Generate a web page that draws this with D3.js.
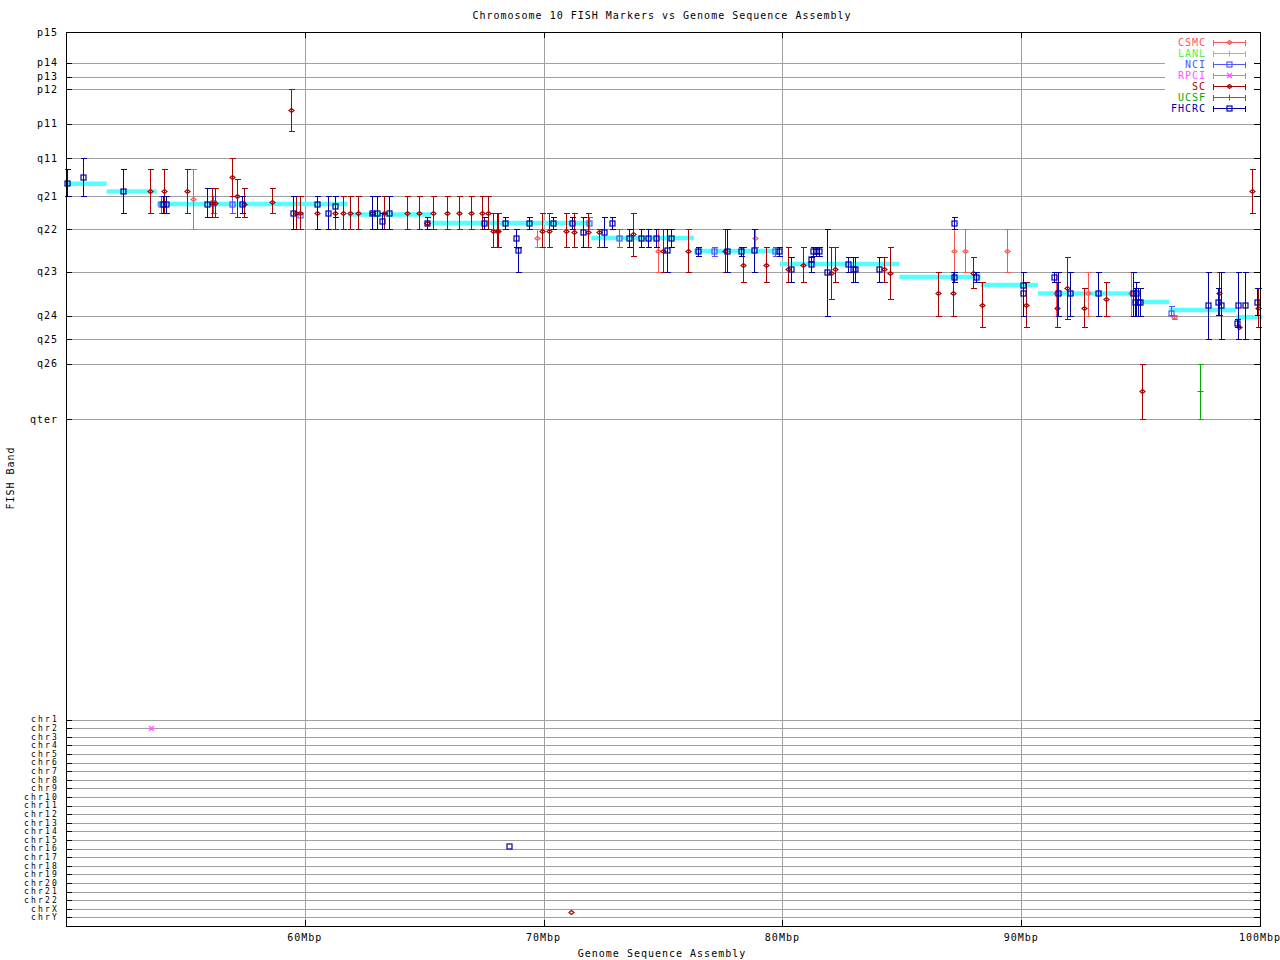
<!DOCTYPE html>
<html><head><meta charset="utf-8">
<script src="https://cdn.jsdelivr.net/npm/d3@7"></script>
<style>
html,body{margin:0;padding:0;background:#fff;}
text{font-family:"DejaVu Sans Mono",monospace;font-size:10px;letter-spacing:1px;}
text.chr{font-size:8px;letter-spacing:2.2px;}
</style></head>
<body><svg id="c" width="1280" height="960"></svg>
<script>
// ---- DATA ----
const title = "Chromosome 10 FISH Markers vs Genome Sequence Assembly";
const xLabel = "Genome Sequence Assembly";
const yLabel = "FISH Band";
const xTicks = [60, 70, 80, 90, 100];
const xTickLabels = ["60Mbp", "70Mbp", "80Mbp", "90Mbp", "100Mbp"];
const bandLabels = ["p15","p14","p13","p12","p11","q11","q21","q22","q23","q24","q25","q26","qter"];
const bandValues = [0, 10.7, 15.6, 20.0, 32.0, 44.1, 57.3, 68.9, 83.7, 99.0, 107.3, 115.8, 135.2];
const chrLabels = ["chr1","chr2","chr3","chr4","chr5","chr6","chr7","chr8","chr9","chr10","chr11","chr12",
  "chr13","chr14","chr15","chr16","chr17","chr18","chr19","chr20","chr21","chr22","chrX","chrY"];
const chrValues = [240,243,246,249,252,255,258,261,264,267,270,273,276,279,282,285,288,291,294,297,300,303,306,309];
const labs = ["CSMC","LANL","NCI","RPCI","SC","UCSF","FHCRC"];
// assembly segments: [startMb, endMb, band]
const assembly = [
  [50.0,51.7,53.0],[51.7,53.8,55.7],[53.8,61.8,60.0],[61.8,65.3,63.7],[65.3,72.0,66.7],
  [72.0,76.3,71.9],[76.3,79.9,76.4],[79.9,84.9,81.0],[84.9,88.3,85.5],[88.3,90.7,88.3],
  [90.7,95.0,91.3],[95.0,96.2,94.2],[96.2,99.0,97.0],[99.0,100.1,99.5]
];
// FISH markers: [lab, Mb, band, bandLow, bandHigh]
const markers = [
  ["FHCRC",50.05,52.8,47.9,57.3],["FHCRC",50.72,50.7,44.1,57.3],["FHCRC",52.40,55.6,47.9,63.2],
  ["SC",53.52,55.6,47.9,63.2],["SC",54.12,55.6,47.9,63.2],["NCI",53.98,60.0,57.3,63.2],
  ["FHCRC",54.06,60.0,57.3,63.2],["FHCRC",54.19,60.0,57.3,63.2],["SC",55.08,55.6,47.9,63.2],
  ["CSMC",55.33,58.4,47.9,68.9],["FHCRC",55.89,60.0,54.6,64.7],["SC",56.10,59.8,54.6,64.7],
  ["SC",56.24,59.8,54.6,64.7],["NCI",56.17,59.8,57.3,63.2],["SC",56.96,50.7,44.1,57.3],
  ["NCI",56.96,60.0,57.3,63.2],["SC",57.15,57.3,51.4,64.7],["FHCRC",57.38,60.0,57.3,63.2],
  ["SC",57.47,60.0,54.6,64.7],["SC",58.64,59.2,54.6,63.2],["SC",59.43,27.3,20.0,34.7],
  ["FHCRC",59.49,63.3,57.3,68.9],["SC",59.63,63.3,57.3,68.9],["SC",59.80,63.3,57.3,68.9],
  ["NCI",59.80,63.9,57.3,68.9],["FHCRC",60.52,60.0,57.3,68.9],["SC",60.52,63.3,57.3,68.9],
  ["FHCRC",60.98,63.3,57.3,68.9],["FHCRC",61.28,60.7,57.3,64.7],["SC",61.28,63.3,57.3,68.9],
  ["SC",61.59,63.3,57.3,68.9],["SC",61.88,63.3,57.3,68.9],["SC",62.22,63.3,57.3,68.9],
  ["FHCRC",62.80,63.3,57.3,68.9],["SC",62.80,63.3,57.3,68.9],["FHCRC",63.01,63.3,57.3,68.9],
  ["FHCRC",63.22,66.1,63.3,68.9],["SC",63.33,63.3,57.3,68.9],["FHCRC",63.54,63.3,57.3,68.9],
  ["SC",64.27,63.3,57.3,68.9],["SC",64.79,63.3,57.3,68.9],["FHCRC",65.13,66.8,64.7,68.9],
  ["SC",65.13,66.8,64.7,68.9],["SC",65.36,63.3,57.3,68.9],["SC",65.97,63.3,57.3,68.9],
  ["SC",66.47,63.3,57.3,68.9],["SC",66.95,63.3,57.3,68.9],["SC",67.41,63.3,57.3,68.9],
  ["SC",67.68,63.3,57.3,68.9],["FHCRC",67.52,66.8,64.7,68.9],["SC",67.87,69.4,63.3,75.1],
  ["SC",68.04,69.4,63.3,75.1],["SC",68.10,69.4,63.3,75.1],["FHCRC",68.40,66.8,64.7,68.9],
  ["FHCRC",68.84,72.0,68.9,75.1],["FHCRC",68.94,76.2,75.1,83.7],["FHCRC",69.40,66.8,64.7,68.9],
  ["CSMC",69.74,72.0,68.9,75.1],["SC",69.92,69.4,63.3,75.1],["SC",70.24,69.4,63.3,75.1],
  ["FHCRC",70.41,66.8,64.7,68.9],["SC",70.93,69.4,63.3,75.1],["FHCRC",71.20,66.8,64.7,68.9],
  ["SC",71.29,69.9,63.3,75.1],["FHCRC",71.66,69.9,64.7,75.1],["SC",71.87,69.9,63.3,75.1],
  ["NCI",71.91,66.8,64.7,68.9],["SC",72.33,69.9,68.9,75.1],["FHCRC",72.54,69.9,64.7,75.1],
  ["FHCRC",72.88,66.8,64.7,68.9],["NCI",73.17,72.0,68.9,75.1],["FHCRC",73.59,72.0,68.9,75.1],
  ["SC",73.76,70.5,63.3,78.2],["FHCRC",74.07,72.0,68.9,75.1],["FHCRC",74.38,72.0,68.9,75.1],
  ["FHCRC",74.69,71.9,68.9,75.1],["CSMC",74.80,76.3,68.9,83.7],["SC",75.01,76.3,68.9,83.7],
  ["FHCRC",75.18,76.1,68.9,83.7],["FHCRC",75.35,71.9,68.9,75.1],["SC",76.06,76.3,68.9,83.7],
  ["FHCRC",76.48,76.4,75.1,78.2],["NCI",77.14,76.4,75.1,78.2],["SC",77.60,76.3,68.9,83.7],
  ["FHCRC",77.69,76.3,68.9,83.7],["FHCRC",78.25,76.4,75.1,78.2],["SC",78.36,81.4,75.1,87.4],
  ["FHCRC",78.82,76.1,68.9,83.7],["CSMC",78.86,72.0,68.9,75.1],["SC",79.33,81.4,75.1,87.4],
  ["NCI",79.69,76.4,75.1,78.2],["FHCRC",79.87,76.4,75.1,78.2],["SC",80.22,82.8,75.1,87.4],
  ["FHCRC",80.35,82.8,78.4,87.4],["SC",80.88,81.4,75.1,87.4],["FHCRC",81.20,79.3,78.4,83.7],
  ["FHCRC",81.20,81.1,78.4,83.7],["FHCRC",81.29,76.3,75.1,78.2],["FHCRC",81.41,76.3,75.1,78.2],
  ["FHCRC",81.52,76.3,75.1,78.2],["FHCRC",81.88,83.9,68.9,99.0],["SC",82.05,84.1,75.1,93.3],
  ["SC",82.21,82.8,75.1,87.4],["FHCRC",82.76,81.1,78.4,83.7],["FHCRC",82.96,82.8,78.4,87.4],
  ["FHCRC",83.04,82.8,78.4,87.4],["FHCRC",84.06,82.8,78.4,87.4],["SC",84.27,82.8,78.4,87.4],
  ["SC",84.51,84.1,75.1,93.3],["SC",86.53,91.2,83.7,99.0],["SC",87.16,91.2,83.7,99.0],
  ["CSMC",87.18,76.3,68.9,83.7],["FHCRC",87.20,66.8,64.7,68.9],["FHCRC",87.20,85.6,83.7,87.4],
  ["CSMC",87.66,76.3,68.9,83.7],["SC",87.99,84.0,78.4,89.5],["FHCRC",88.09,85.6,83.7,87.4],
  ["SC",88.35,95.4,87.4,103.1],["CSMC",89.42,76.3,68.9,83.7],["FHCRC",90.09,88.4,83.7,99.0],
  ["FHCRC",90.09,91.2,83.7,99.0],["SC",90.19,95.4,87.4,103.1],["FHCRC",91.39,85.6,83.7,87.4],
  ["CSMC",91.45,91.2,83.7,99.0],["FHCRC",91.53,91.2,83.7,99.0],["SC",91.51,96.4,87.4,103.1],
  ["SC",91.93,89.5,78.4,100.3],["FHCRC",92.06,91.2,83.7,99.0],["SC",92.64,96.4,89.5,103.1],
  ["CSMC",92.81,91.2,83.7,99.0],["FHCRC",93.23,91.2,83.7,99.0],["SC",93.56,93.3,87.4,99.0],
  ["CSMC",94.61,91.2,83.7,99.0],["FHCRC",94.68,91.2,83.7,99.0],["FHCRC",94.77,94.3,89.5,99.0],
  ["FHCRC",94.81,91.2,87.4,99.0],["FHCRC",94.89,94.3,89.5,99.0],["FHCRC",94.97,94.3,89.5,99.0],
  ["SC",95.07,125.3,115.8,135.2],["NCI",96.27,98.1,95.6,98.9],["CSMC",96.41,99.6,98.9,100.3],
  ["UCSF",97.50,125.3,115.8,135.2],["FHCRC",97.84,95.4,83.7,107.3],["SC",98.28,91.2,83.7,98.9],
  ["FHCRC",98.25,94.3,89.5,98.9],["FHCRC",98.37,95.4,83.7,107.3],["FHCRC",99.09,95.4,83.7,107.3],
  ["FHCRC",99.05,101.7,100.3,103.1],["SC",99.11,102.8,102.8,102.8],["FHCRC",99.38,95.4,83.7,107.3],
  ["FHCRC",99.89,94.3,89.5,98.9],["SC",99.93,96.4,89.5,103.1],["SC",99.68,55.6,47.9,63.2],
  ["RPCI",53.55,243,243,243],["FHCRC",68.56,284,284,284],["SC",71.15,307.2,307.2,307.2]
];

// ---- STYLE ----
const labColor = {CSMC:"#ff5555",LANL:"#55ee55",NCI:"#5555ff",RPCI:"#ff55ff",SC:"#aa0000",UCSF:"#00aa00",FHCRC:"#0000aa"};
const labShape = {CSMC:"diamond",LANL:"plus",NCI:"square",RPCI:"star",SC:"diamond",UCSF:"plus",FHCRC:"square"};
const L = 66, R = 1260, T = 32, B = 926;
const svg = d3.select("#c");
const x = d3.scaleLinear().domain([50, 100]).range([L, R]);
const y = d3.scaleLinear().domain([0, 312]).range([T, B]);
const px = v => Math.round(v) + 0.5;
const grid = "#a0a0a0";

svg.append("rect").attr("width",1280).attr("height",960).attr("fill","#fff");
const g = svg.append("g").attr("shape-rendering","crispEdges");

// vertical grid
xTicks.filter(t => t < 100).forEach(t => {
  g.append("line").attr("x1",px(x(t))).attr("x2",px(x(t))).attr("y1",T+6).attr("y2",B-6).attr("stroke",grid);
});
// horizontal grid + ticks
const yTicks = bandValues.map((v,i)=>({v, l:bandLabels[i], c:""})).concat(chrValues.map((v,i)=>({v, l:chrLabels[i], c:"chr"})));
yTicks.forEach(d => {
  const yy = px(y(d.v));
  if (d.v > 0) {
    g.append("line").attr("x1",L+6).attr("x2",R-6).attr("y1",yy).attr("y2",yy).attr("stroke",grid);
    g.append("line").attr("x1",L).attr("x2",L+6).attr("y1",yy).attr("y2",yy).attr("stroke","#000");
    g.append("line").attr("x1",R-6).attr("x2",R).attr("y1",yy).attr("y2",yy).attr("stroke","#000");
  }
  svg.append("text").attr("class",d.c).attr("x",d.c ? 59 : 58).attr("y",y(d.v)).attr("dy","0.35em").attr("text-anchor","end").text(d.l);
});
xTicks.forEach((t,i) => {
  const xx = px(x(t));
  g.append("line").attr("x1",xx).attr("x2",xx).attr("y1",B).attr("y2",B-6).attr("stroke","#000");
  g.append("line").attr("x1",xx).attr("x2",xx).attr("y1",T).attr("y2",T+6).attr("stroke","#000");
  svg.append("text").attr("x",x(t)).attr("y",941).attr("text-anchor","middle").text(xTickLabels[i]);
});

// legend background
svg.append("rect").attr("x",1165).attr("y",34).attr("width",89).attr("height",80).attr("fill","#fff");

// assembly segments
svg.append("g").selectAll("line").data(assembly).join("line")
  .attr("x1",d=>x(d[0])).attr("x2",d=>x(d[1]))
  .attr("y1",d=>y(d[2])).attr("y2",d=>y(d[2]))
  .attr("stroke","#55ffff").attr("stroke-width",4.5);

function drawMarker(sel, shape, color) {
  if (shape === "diamond") {
    sel.append("path").attr("d","M0,-2 L2.5,0 L0,2 L-2.5,0 Z").attr("fill","none").attr("stroke",color).attr("stroke-width",1.2);
  } else if (shape === "square") {
    sel.append("rect").attr("x",-2.5).attr("y",-2.5).attr("width",5).attr("height",5).attr("fill","none").attr("stroke",color).attr("stroke-width",1.2);
  } else if (shape === "plus") {
    sel.append("path").attr("d","M-3,0 H3 M0,-3 V3").attr("stroke",color).attr("stroke-width",1);
  } else {
    sel.append("path").attr("d","M-2.5,-2.5 L2.5,2.5 M-2.5,2.5 L2.5,-2.5 M-3,0 H3").attr("stroke",color).attr("stroke-width",1.2);
  }
}

// markers, drawn in lab order
const pg = svg.append("g");
labs.forEach(lab => {
  const c = labColor[lab];
  markers.filter(d => d[0] === lab).forEach(d => {
    const xx = px(x(d[1]));
    const y0 = px(y(d[3])), y1 = px(y(d[4]));
    const eg = pg.append("g").attr("shape-rendering","crispEdges");
    if (d[4] > d[3]) {
      eg.append("line").attr("x1",xx).attr("x2",xx).attr("y1",y0).attr("y2",y1).attr("stroke",c);
      eg.append("line").attr("x1",xx-3).attr("x2",xx+3).attr("y1",y0).attr("y2",y0).attr("stroke",c);
      eg.append("line").attr("x1",xx-3).attr("x2",xx+3).attr("y1",y1).attr("y2",y1).attr("stroke",c);
    }
    const mg = pg.append("g").attr("transform",`translate(${xx},${px(y(d[2]))})`);
    drawMarker(mg, labShape[lab], c);
  });
});

// legend
labs.forEach((lab,i) => {
  const yy = 42.5 + i*11;
  const c = labColor[lab];
  svg.append("text").attr("x",1206).attr("y",yy).attr("dy","0.35em").attr("text-anchor","end").attr("fill",c).text(lab);
  const lg = svg.append("g").attr("shape-rendering","crispEdges");
  lg.append("line").attr("x1",1213).attr("x2",1246).attr("y1",yy).attr("y2",yy).attr("stroke",c);
  lg.append("line").attr("x1",1213.5).attr("x2",1213.5).attr("y1",yy-3).attr("y2",yy+3).attr("stroke",c);
  lg.append("line").attr("x1",1245.5).attr("x2",1245.5).attr("y1",yy-3).attr("y2",yy+3).attr("stroke",c);
  const mg = svg.append("g").attr("transform",`translate(1229.5,${yy})`);
  drawMarker(mg, labShape[lab], c);
});

// frame
svg.append("rect").attr("x",L+0.5).attr("y",T+0.5).attr("width",R-L).attr("height",B-T)
  .attr("fill","none").attr("stroke","#000").attr("shape-rendering","crispEdges");

// titles
svg.append("text").attr("x",662).attr("y",19).attr("text-anchor","middle").text(title);
svg.append("text").attr("x",662).attr("y",957).attr("text-anchor","middle").text(xLabel);
svg.append("text").attr("transform","translate(14,478) rotate(-90)").attr("text-anchor","middle").text(yLabel);
</script></body></html>
